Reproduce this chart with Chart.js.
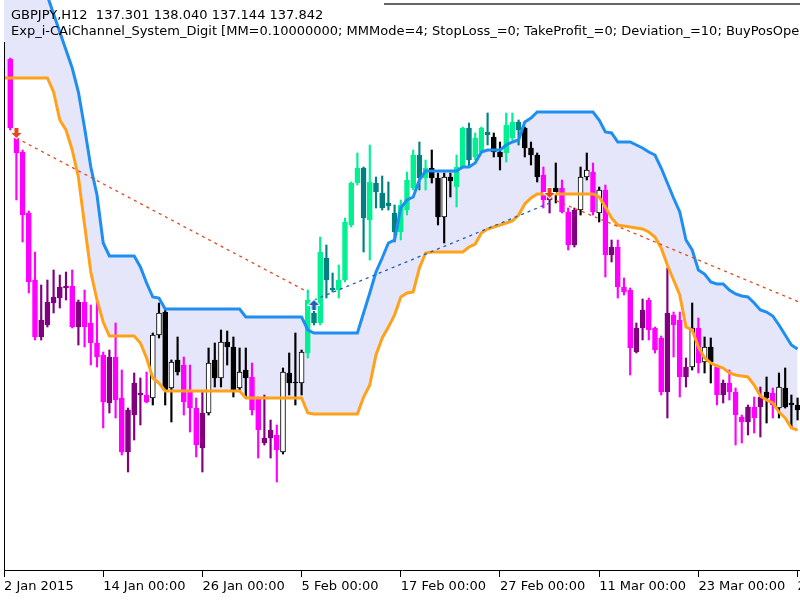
<!DOCTYPE html>
<html>
<head>
<meta charset="utf-8">
<title>GBPJPY H12 - Exp_i-CAiChannel_System_Digit</title>
<script src="https://cdn.jsdelivr.net/npm/chart.js@4.4.1/dist/chart.umd.min.js"></script>
<style>
  html, body { margin: 0; padding: 0; background: #fff; }
</style>
</head>
<body>
<canvas id="chart" width="800" height="600"></canvas>
<script>
// x axis labels, one every 16 H12 bars
const tickLabels = ['2 Jan 2015', '14 Jan 00:00', '26 Jan 00:00', '5 Feb 00:00', '17 Feb 00:00',
  '27 Feb 00:00', '11 Mar 00:00', '23 Mar 00:00', '2 Apr 00:00'];
const barsPerLabel = 16;
const firstCandle = 1; // bar 0 sits under the left frame

// candles, bars 1..128
const opens = [
  188.82, 187.24, 186.96, 185.74, 184.40, 183.26, 183.50, 183.94, 184.04, 184.24,
  184.28, 183.46, 183.96, 183.54, 183.14, 182.90, 181.94, 182.86, 182.04, 180.96,
  181.70, 182.10, 182.10, 182.04, 183.30, 183.76, 182.24, 182.80, 182.70, 182.20,
  181.84, 181.04, 181.74, 182.80, 182.44, 183.16, 183.06, 182.24, 182.60, 182.46,
  182.04, 181.14, 181.24, 181.30, 180.96, 182.54, 182.36, 182.34, 182.94, 183.74,
  183.54, 184.84, 184.24, 184.20, 184.40, 185.50, 186.34, 186.64, 185.60, 186.34,
  186.14, 185.94, 185.74, 185.36, 185.80, 186.24, 186.90, 186.44, 186.64, 186.44,
  185.66, 186.46, 186.26, 186.66, 187.44, 186.86, 186.96, 187.36, 187.26, 186.96,
  186.94, 187.24, 187.56, 187.44, 187.04, 186.90, 186.50, 186.00, 186.24, 186.24,
  185.76, 185.10, 185.80, 186.46, 186.56, 185.74, 186.20, 184.90, 185.06, 184.26,
  184.20, 182.96, 183.44, 184.00, 183.44, 183.24, 182.16, 183.70, 183.60, 182.46,
  182.66, 183.44, 182.76, 183.06, 182.66, 182.10, 182.34, 182.16, 181.66, 181.56,
  181.86, 181.86, 182.16, 182.14, 181.84, 182.24, 181.94, 181.90
];
const highs = [
  188.84, 187.28, 187.00, 185.78, 184.96, 184.30, 184.40, 184.60, 184.50, 184.56,
  184.60, 184.00, 184.20, 183.90, 183.96, 182.96, 183.00, 183.54, 182.60, 181.84,
  182.54, 182.44, 182.56, 183.34, 183.94, 183.80, 182.80, 183.26, 182.86, 182.70,
  182.04, 182.16, 183.04, 183.14, 183.40, 183.38, 183.26, 183.04, 183.04, 182.74,
  182.06, 182.10, 181.60, 181.50, 182.64, 182.94, 183.34, 183.00, 184.20, 183.90,
  185.26, 185.10, 184.54, 184.70, 185.64, 186.36, 186.94, 186.66, 187.10, 186.46,
  186.48, 186.36, 185.90, 186.00, 186.56, 187.00, 187.16, 186.80, 187.00, 186.54,
  186.54, 186.54, 186.90, 187.46, 187.54, 187.34, 187.46, 187.74, 187.34, 187.16,
  187.74, 187.74, 187.60, 187.46, 187.16, 186.94, 186.66, 186.14, 186.74, 186.40,
  185.84, 185.84, 186.66, 186.94, 186.74, 186.26, 186.30, 185.20, 185.20, 184.44,
  184.24, 183.54, 184.02, 184.04, 183.46, 183.28, 184.64, 183.76, 183.76, 182.84,
  183.94, 183.64, 183.26, 183.24, 182.70, 182.40, 182.60, 182.24, 181.70, 181.90,
  182.06, 182.26, 182.46, 182.24, 182.54, 182.64, 182.10, 182.04
];
const lows = [
  187.40, 186.00, 185.16, 184.14, 183.20, 183.20, 183.46, 183.74, 183.84, 184.00,
  183.44, 183.10, 183.06, 182.70, 182.66, 181.44, 181.74, 181.64, 180.90, 180.56,
  181.20, 181.50, 181.94, 181.90, 183.24, 181.90, 181.56, 182.50, 181.70, 181.36,
  180.86, 180.56, 181.70, 182.26, 182.26, 182.70, 182.06, 182.20, 182.04, 181.70,
  180.84, 181.10, 180.84, 180.36, 180.92, 182.10, 181.90, 182.10, 182.84, 183.50,
  183.50, 184.04, 184.16, 184.04, 184.36, 185.46, 186.30, 184.96, 184.80, 185.84,
  185.80, 185.80, 185.16, 185.20, 185.70, 186.20, 186.20, 186.20, 186.34, 185.50,
  185.14, 186.06, 185.86, 186.64, 186.66, 186.80, 186.94, 187.10, 186.86, 186.60,
  186.76, 187.20, 187.10, 186.86, 186.70, 186.36, 185.84, 185.74, 185.94, 185.74,
  185.00, 185.06, 185.70, 186.40, 185.70, 185.56, 184.46, 184.76, 184.04, 184.10,
  182.50, 182.94, 183.20, 183.20, 182.94, 182.10, 181.64, 182.86, 182.06, 182.26,
  182.60, 182.54, 182.54, 182.34, 181.90, 181.94, 182.00, 181.10, 181.14, 181.30,
  181.34, 181.26, 181.54, 181.64, 181.64, 181.84, 181.46, 181.60
];
const closes = [
  187.44, 186.94, 185.70, 184.36, 183.26, 183.60, 183.96, 184.06, 184.26, 184.28,
  183.46, 183.96, 183.46, 183.14, 182.86, 181.96, 182.86, 182.00, 180.96, 181.80,
  182.34, 182.14, 181.96, 183.30, 183.74, 182.20, 182.76, 182.56, 181.96, 181.84,
  181.10, 181.74, 182.74, 182.44, 183.16, 183.06, 182.20, 182.56, 182.44, 181.80,
  181.40, 181.24, 181.40, 181.00, 182.56, 182.34, 182.34, 182.96, 184.00, 183.54,
  184.96, 184.40, 184.20, 184.40, 185.56, 186.34, 186.64, 185.64, 186.36, 186.16,
  185.84, 185.88, 185.36, 185.90, 186.40, 186.90, 186.44, 186.64, 186.44, 185.66,
  186.46, 186.38, 186.66, 187.44, 186.80, 187.24, 187.44, 187.30, 186.96, 186.86,
  187.50, 187.56, 187.40, 187.04, 186.90, 186.46, 186.00, 186.10, 186.16, 185.76,
  185.10, 185.80, 186.46, 186.60, 185.76, 186.20, 184.90, 185.06, 184.26, 184.16,
  183.04, 183.44, 183.80, 183.40, 183.00, 182.16, 183.74, 183.50, 182.46, 182.66,
  183.44, 182.74, 183.06, 182.76, 182.10, 182.34, 182.16, 181.70, 181.56, 181.86,
  181.64, 182.06, 182.04, 181.90, 182.26, 181.86, 181.90, 181.80
];

// channel borders, bars 0..128
const upperBand = [
  191.60, 191.40, 191.20, 191.00, 190.80, 190.60, 190.36, 190.08, 189.72, 189.36,
  189.00, 188.64, 188.16, 187.44, 186.66, 186.10, 185.14, 184.88, 184.88, 184.88,
  184.88, 184.88, 184.66, 184.34, 184.06, 184.04, 183.82, 183.82, 183.82, 183.82,
  183.82, 183.82, 183.82, 183.82, 183.82, 183.82, 183.82, 183.82, 183.82, 183.66,
  183.66, 183.66, 183.66, 183.66, 183.66, 183.66, 183.66, 183.66, 183.66, 183.40,
  183.34, 183.34, 183.34, 183.34, 183.34, 183.34, 183.34, 183.34, 183.74, 184.14,
  184.56, 184.84, 185.14, 185.20, 185.84, 186.00, 186.06, 186.40, 186.58, 186.58,
  186.58, 186.58, 186.58, 186.58, 186.66, 186.66, 186.74, 186.96, 187.00, 187.00,
  187.00, 187.10, 187.16, 187.20, 187.56, 187.64, 187.76, 187.76, 187.76, 187.76,
  187.76, 187.76, 187.76, 187.76, 187.76, 187.76, 187.60, 187.36, 187.34, 187.16,
  187.16, 187.16, 187.10, 187.04, 186.96, 186.90, 186.64, 186.34, 186.04, 185.76,
  185.20, 185.00, 184.60, 184.52, 184.36, 184.32, 184.32, 184.20, 184.12, 184.08,
  184.06, 183.94, 183.80, 183.76, 183.68, 183.50, 183.30, 183.10, 183.02
];
const lowerBand = [
  188.44, 188.44, 188.44, 188.44, 188.44, 188.44, 188.44, 188.44, 188.16, 187.60,
  187.40, 187.00, 186.46, 185.50, 184.56, 184.00, 183.56, 183.28, 183.28, 183.28,
  183.28, 183.28, 183.14, 182.84, 182.44, 182.34, 182.18, 182.18, 182.18, 182.18,
  182.18, 182.18, 182.18, 182.18, 182.18, 182.18, 182.18, 182.18, 182.18, 182.04,
  182.04, 182.04, 182.04, 182.04, 182.04, 182.04, 182.04, 182.04, 182.04, 181.74,
  181.72, 181.72, 181.72, 181.72, 181.72, 181.72, 181.72, 181.72, 182.06, 182.30,
  182.90, 183.24, 183.46, 183.70, 184.06, 184.14, 184.16, 184.64, 184.94, 184.96,
  184.96, 184.96, 184.96, 184.96, 184.96, 185.06, 185.12, 185.34, 185.42, 185.46,
  185.50, 185.54, 185.58, 185.70, 185.92, 186.04, 186.12, 186.12, 186.12, 186.12,
  186.12, 186.12, 186.12, 186.12, 186.12, 186.12, 186.06, 185.86, 185.64, 185.50,
  185.48, 185.46, 185.44, 185.42, 185.36, 185.26, 185.04, 184.70, 184.40, 184.10,
  183.46, 183.40, 183.06, 182.84, 182.74, 182.68, 182.64, 182.54, 182.50, 182.48,
  182.46, 182.30, 182.08, 182.00, 181.94, 181.76, 181.64, 181.44, 181.40
];

// trades of the expert: open bar / price, close bar / price
const tradeSide = ['sell', 'buy', 'sell'];
const tradeOpenBar = [2, 50, 88];
const tradeOpenPrice = [187.24, 184.00, 186.04];
const tradeCloseBar = [49, 88, 129];
const tradeClosePrice = [184.16, 185.94, 183.92];

const headerLine1 = 'GBPJPY,H12  137.301 138.040 137.144 137.842';
const headerLine2 = 'Exp_i-CAiChannel_System_Digit [MM=0.10000000; MMMode=4; StopLoss_=0; TakeProfit_=0; Deviation_=10; BuyPosOpen=true; SellPosOpen=true; BuyPosClose=true; SellPosClose=true]';

// candle colours, as the indicator paints them
const COL = {
  upBull: '#00F092', upBear: '#008080',
  dnBull: '#800080', dnBear: '#FF00FF',
  inBull: '#FFFFFF', inBear: '#000000'
};
function candleFill(k) {
  const bar = k + firstCandle;
  const bull = closes[k] >= opens[k];
  if (closes[k] > upperBand[bar]) return bull ? COL.upBull : COL.upBear;
  if (closes[k] < lowerBand[bar]) return bull ? COL.dnBull : COL.dnBear;
  return bull ? COL.inBull : COL.inBear;
}
function candleEdge(k) {
  const f = candleFill(k);
  return f === COL.inBull ? '#000000' : f;
}

const fills = closes.map((_, k) => candleFill(k));
const edges = closes.map((_, k) => candleEdge(k));

// arrow icons; the tip lands on the centre of the image
function arrowIcon(color, down) {
  const w = 13, h = 11;
  const c = document.createElement('canvas');
  c.width = w; c.height = h * 2;
  const g = c.getContext('2d');
  g.translate(w / 2, h);
  if (!down) g.scale(1, -1);
  g.beginPath();
  g.moveTo(0, 0);
  g.lineTo(-5, -5); g.lineTo(-2, -5); g.lineTo(-2, -10);
  g.lineTo(2, -10); g.lineTo(2, -5); g.lineTo(5, -5);
  g.closePath();
  g.lineWidth = 2;
  g.strokeStyle = '#ffffff';
  g.stroke();
  g.fillStyle = color;
  g.fill();
  return c;
}
const sellColor = '#E2481F';
const buyColor = '#1F5FB8';
const sellArrow = arrowIcon(sellColor, true);
const buyArrow = arrowIcon(buyColor, false);

const wickData = highs.map((h, k) => ({ x: k + firstCandle, y: [lows[k], h] }));
const bodyData = opens.map((o, k) => ({ x: k + firstCandle, y: [o, closes[k]] }));
const upperData = upperBand.map((v, i) => ({ x: i, y: v }));
const lowerData = lowerBand.map((v, i) => ({ x: i, y: v }));

const tradeSets = tradeSide.map((side, t) => ({
  type: 'line',
  data: [
    { x: tradeOpenBar[t], y: tradeOpenPrice[t] },
    { x: tradeCloseBar[t], y: tradeClosePrice[t] }
  ],
  borderColor: side === 'sell' ? sellColor : buyColor,
  borderWidth: 1.3,
  borderDash: [3, 4],
  pointRadius: 0,
  order: 2
}));

const frame = {
  id: 'frame',
  afterDraw(chart) {
    const { ctx, chartArea } = chart;
    ctx.save();
    ctx.strokeStyle = '#000';
    ctx.lineWidth = 1;
    ctx.beginPath();
    ctx.moveTo(chartArea.left + 0.5, 42);
    ctx.lineTo(chartArea.left + 0.5, chartArea.bottom);
    ctx.stroke();
    // window edge along the top right
    ctx.strokeStyle = '#333';
    ctx.lineWidth = 1.5;
    ctx.beginPath();
    ctx.moveTo(384, 4);
    ctx.lineTo(800, 4);
    ctx.stroke();
    ctx.fillStyle = '#000';
    ctx.font = '13px "DejaVu Sans"';
    ctx.textBaseline = 'alphabetic';
    ctx.fillText(headerLine1, 11, 19);
    ctx.fillText(headerLine2, 11, 35);
    ctx.restore();
  }
};

new Chart(document.getElementById('chart'), {
  type: 'bar',
  data: {
    datasets: [
      {
        label: 'upper',
        type: 'line',
        data: upperData,
        borderColor: '#1E8FF0',
        borderWidth: 3,
        pointRadius: 0,
        tension: 0,
        fill: false,
        order: 3
      },
      {
        label: 'lower',
        type: 'line',
        data: lowerData,
        borderColor: '#FFA21A',
        backgroundColor: '#E6E6FA',
        borderWidth: 3,
        pointRadius: 0,
        tension: 0,
        fill: '-1',
        order: 3
      },
      {
        label: 'wicks',
        data: wickData,
        backgroundColor: edges,
        borderWidth: 0,
        barThickness: 1.5,
        grouped: false,
        order: 5
      },
      {
        label: 'bodies',
        data: bodyData,
        backgroundColor: fills,
        borderColor: edges,
        borderWidth: 1,
        borderSkipped: false,
        barThickness: 5,
        minBarLength: 1,
        grouped: false,
        order: 4
      },
      ...tradeSets,
      {
        label: 'entries',
        type: 'line',
        showLine: false,
        data: tradeOpenBar.map((b, t) => ({ x: b, y: tradeOpenPrice[t] })),
        pointStyle: tradeSide.map(s => s === 'sell' ? sellArrow : buyArrow),
        pointRadius: 6,
        order: 1
      }
    ]
  },
  options: {
    responsive: false,
    animation: false,
    devicePixelRatio: 1,
    layout: { autoPadding: false, padding: { left: 4, right: 0, top: 0, bottom: 0 } },
    plugins: {
      legend: { display: false },
      tooltip: { enabled: false },
      filler: { drawTime: 'beforeDatasetsDraw' }
    },
    scales: {
      x: {
        type: 'linear',
        min: 0,
        max: 128.39,
        offset: false,
        grid: { offset: false, drawOnChartArea: false, color: '#000', tickLength: 7 },
        border: { color: '#000', width: 1 },
        afterBuildTicks: (s) => { s.ticks = tickLabels.map((_, k) => ({ value: k * barsPerLabel })); },
        afterFit: (s) => {
          s.height = 30;
          s.paddingLeft = 0; s.paddingRight = 0; s.paddingTop = 0; s.paddingBottom = 0;
        },
        ticks: {
          autoSkip: false,
          maxRotation: 0,
          align: 'start',
          padding: 2,
          color: '#000',
          font: { family: 'DejaVu Sans', size: 13 },
          callback: (v, idx) => tickLabels[idx]
        }
      },
      y: {
        type: 'linear',
        display: false,
        min: 178.6,
        max: 190.0
      }
    }
  },
  plugins: [frame]
});
</script>
</body>
</html>
